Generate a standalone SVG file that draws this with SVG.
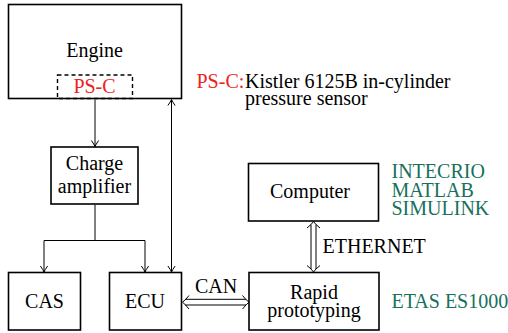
<svg xmlns="http://www.w3.org/2000/svg" width="508" height="333" viewBox="0 0 508 333">
<style>
.box{fill:#fff;stroke:#000;stroke-width:1.6}
.t{font-family:'Liberation Serif','Times New Roman',serif;font-size:20px;fill:#000}
.m{text-anchor:middle}
.red{fill:#ee2222}
.grn{fill:#17705c}
.ln{fill:none;stroke:#000;stroke-width:1}
.hd{fill:none;stroke:#000;stroke-width:1}
</style>
<defs>
<marker id="ar" markerUnits="userSpaceOnUse" markerWidth="12" markerHeight="12" viewBox="-7 -6 8 12" refX="0" refY="0" orient="auto-start-reverse">
<path d="M-6,-3.6 Q-2,-0.8 0,0 Q-2,0.8 -6,3.6" fill="none" stroke="#000" stroke-width="1"/>
</marker>
</defs>
<rect width="508" height="333" fill="#fff"/>
<g id="engine">
<rect class="box" x="8.5" y="4.5" width="173" height="94"/>
<text class="t m" x="94.5" y="57">Engine</text>
</g>
<g id="psc">
<rect x="57.5" y="75" width="75" height="23.5" fill="none" stroke="#000" stroke-width="1.4" stroke-dasharray="4,3"/>
<text class="t m red" x="94.5" y="93">PS-C</text>
</g>
<g id="charge">
<rect class="box" x="51" y="147" width="87" height="57"/>
<text class="t m" x="94.5" y="170">Charge</text>
<text class="t m" x="94.5" y="192.5">amplifier</text>
</g>
<g id="cas">
<rect class="box" x="8.5" y="272.5" width="72" height="57.5"/>
<text class="t m" x="44.5" y="308">CAS</text>
</g>
<g id="ecu">
<rect class="box" x="109.5" y="272.5" width="72" height="57.5"/>
<text class="t m" x="145" y="308">ECU</text>
</g>
<g id="computer">
<rect class="box" x="248.5" y="163.5" width="130" height="57.5"/>
<text class="t m" x="310" y="198">Computer</text>
</g>
<g id="rapid">
<rect class="box" x="249" y="272.5" width="130" height="57.5"/>
<text class="t m" x="314" y="298.5">Rapid</text>
<text class="t m" x="314" y="317">prototyping</text>
</g>
<g id="legend">
<text class="t red" x="196.5" y="88">PS-C:</text>
<text class="t" x="245" y="88">Kistler 6125B in-cylinder</text>
<text class="t" x="245" y="104.5">pressure sensor</text>
</g>
<g id="software">
<text class="t grn" x="391.5" y="177.5">INTECRIO</text>
<text class="t grn" x="391.5" y="196.5">MATLAB</text>
<text class="t grn" x="391.5" y="215">SIMULINK</text>
</g>
<g id="etas">
<text class="t grn" x="391.5" y="308">ETAS ES1000</text>
</g>
<g id="connectors">
<path class="ln" d="M95,99.5 V146.5" marker-end="url(#ar)"/>
<path class="ln" d="M95,204.5 V240.5 M44,240.5 H145"/>
<path class="ln" d="M44,240.5 V272" marker-end="url(#ar)"/>
<path class="ln" d="M145,240.5 V272" marker-end="url(#ar)"/>
<path class="ln" d="M171.5,272 V99.5" marker-start="url(#ar)" marker-end="url(#ar)"/>
<g id="can">
<path class="ln" d="M185,299.3 H246 M185,305 H246"/>
<path class="hd" d="M189,295.5 Q185,300.5 182.5,302.2 Q185,304 189,309"/>
<path class="hd" d="M242.5,295.5 Q246.5,300.5 249,302.2 Q246.5,304 242.5,309"/>
<text class="t m" x="216" y="293">CAN</text>
</g>
<g id="ethernet">
<path class="ln" d="M311,224.5 V269 M316,224.5 V269"/>
<path class="hd" d="M307,228 Q312,224 313.5,221.5 Q315,224 320,228"/>
<path class="hd" d="M307,265.5 Q312,269.5 313.5,272 Q315,269.5 320,265.5"/>
<text class="t" x="322.5" y="253">ETHERNET</text>
</g>
</g>
</svg>
